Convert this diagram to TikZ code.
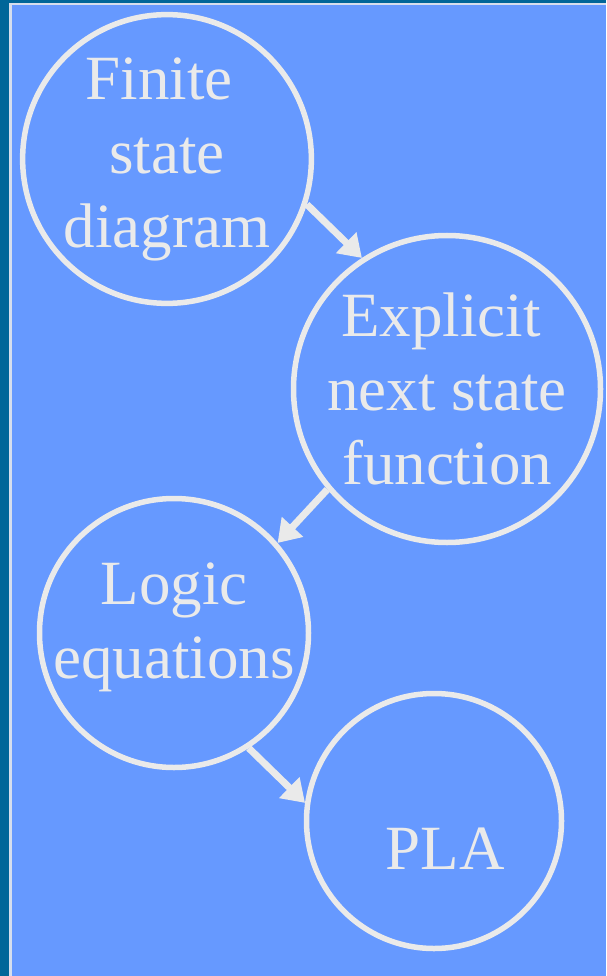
\documentclass[tikz,border=0pt]{standalone}
\usepackage{fontspec}
\setmainfont{Liberation Serif}
\usetikzlibrary{arrows.meta}
\definecolor{frameblue}{HTML}{006699}
\definecolor{panelblue}{HTML}{6699FF}
\definecolor{chalk}{HTML}{EAEAEA}
\tikzset{
  stage/.style={circle, draw=chalk, line width=5.5pt, inner sep=0pt, align=center, text=chalk, font=\fontsize{63}{74}\selectfont},
  flow/.style={-{Triangle[length=22pt,width=28pt]}, line width=7pt, draw=chalk}
}

\begin{document}
\begin{tikzpicture}[x=1pt,y=-1pt]
  \useasboundingbox (0,0) rectangle (606,976);
  \fill[frameblue] (0,0) rectangle (606,976);
  \fill[chalk!85!panelblue] (9,3) rectangle (606,976);
  \fill[panelblue] (12,5.5) rectangle (606,976);
  % the four stages
  \node[stage, minimum size=280pt] (fsd) at (167,159) {Finite\hspace*{16pt}\\state\\diagram};
  \node[stage, minimum size=307pt] (nsf) at (447,389) {Explicit\hspace*{12pt}\\next state\\function};
  \node[stage, minimum size=269pt] (leq) at (174,633) {\raisebox{-8pt}[0pt][0pt]{Logic}\\\raisebox{-8pt}[0pt][0pt]{equations}};
  \node[stage, minimum size=255pt] (pla) at (434,821) {\raisebox{-48pt}[0pt][0pt]{\hspace*{22pt}PLA}};
  % arrows between them
  \draw[flow] (fsd.-18) -- (nsf.123);
  \draw[flow] (nsf.220) -- (leq.41);
  \draw[flow] (leq.-57) -- (pla.172);
\end{tikzpicture}
\end{document}
